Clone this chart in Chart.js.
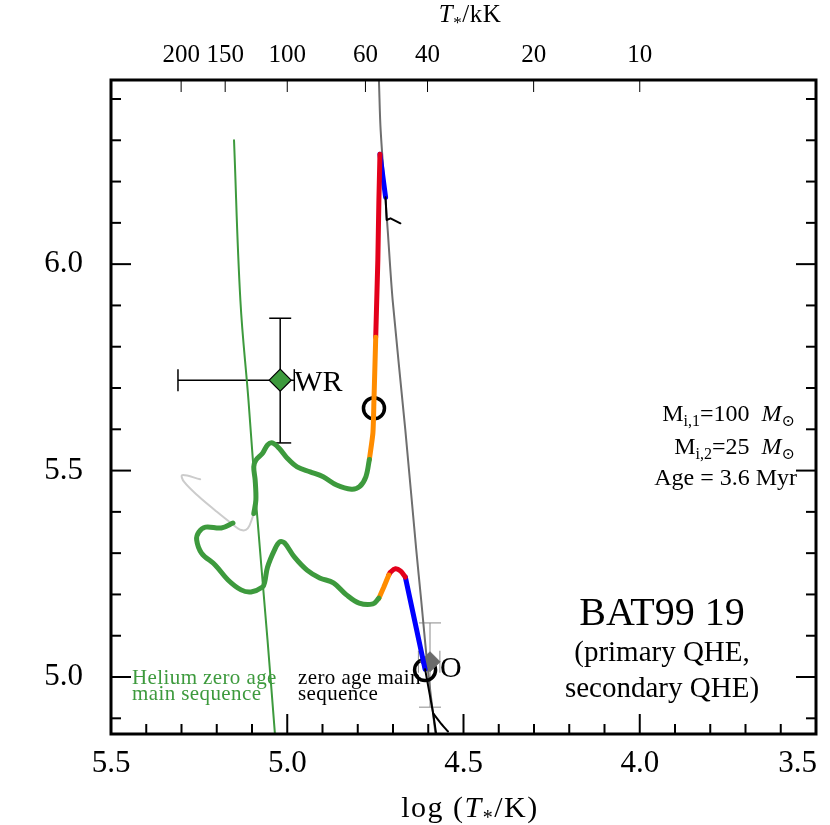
<!DOCTYPE html>
<html>
<head>
<meta charset="utf-8">
<script src="https://cdn.jsdelivr.net/npm/chart.js@4.4.1/dist/chart.umd.min.js"></script>
<style>
  body { margin: 0; background: #fff; }
  canvas { display: block; }
</style>
</head>
<body>
<canvas id="hrd" width="830" height="825"></canvas>
<script>
const ctx = document.getElementById("hrd");
const serif = "'Liberation Serif', 'DejaVu Serif', serif";

const green = "#3d9a3d";
const red = "#e3001b";
const blue = "#0000ff";
const orange = "#ff8c00";

// axis ticks
const xTickLabels = [5.5, 5.0, 4.5, 4.0, 3.5];
const yTickLabels = [5.0, 5.5, 6.0];
const topTickKK = [200, 150, 100, 60, 40, 20, 10];

// helium zero age main sequence
const heZamsT = [5.151, 5.133, 5.110, 5.089, 5.056, 5.034];
const heZamsL = [6.300, 5.913, 5.670, 5.429, 5.090, 4.852];

// zero age main sequence
const zamsT = [4.743, 4.740, 4.735, 4.715, 4.701, 4.665, 4.634, 4.620, 4.601, 4.578];
const zamsL = [6.500, 6.446, 6.324, 6.082, 5.913, 5.598, 5.308, 5.186, 5.017, 4.852];

// primary track (100 Msun)
const p1PreT = [4.679, 4.707, 4.718, 4.721];
const p1PreL = [6.099, 6.111, 6.107, 6.162];
const p1BlueT = [4.721, 4.737];
const p1BlueL = [6.162, 6.266];
const p1RedT = [4.737, 4.740, 4.743, 4.749];
const p1RedL = [6.266, 6.155, 6.010, 5.823];
const p1OrangeT = [4.749, 4.754, 4.757, 4.767];
const p1OrangeL = [5.823, 5.671, 5.591, 5.527];
const p1GreenT = [4.767, 4.777, 4.795, 4.818, 4.860, 4.898, 4.935, 4.972, 5.000, 5.023, 5.042, 5.056, 5.070, 5.089, 5.095, 5.091, 5.089, 5.095];
const p1GreenL = [5.527, 5.485, 5.461, 5.455, 5.465, 5.485, 5.497, 5.509, 5.530, 5.554, 5.567, 5.562, 5.542, 5.525, 5.509, 5.477, 5.429, 5.396];
const p1LateT = [5.095, 5.098, 5.112, 5.130, 5.158, 5.205, 5.251, 5.293, 5.298, 5.247];
const p1LateL = [5.396, 5.388, 5.360, 5.356, 5.372, 5.404, 5.437, 5.473, 5.489, 5.479];

// secondary track (25 Msun)
const s2PreT = [4.573, 4.586, 4.609];
const s2PreL = [4.835, 4.912, 5.019];
const s2HookT = [4.586, 4.567, 4.544];
const s2HookL = [4.912, 4.891, 4.868];
const s2BlueT = [4.609, 4.665];
const s2BlueL = [5.019, 5.242];
const s2RedT = [4.665, 4.679, 4.693, 4.707, 4.712];
const s2RedL = [5.242, 5.257, 5.262, 5.254, 5.247];
const s2OrangeT = [4.712, 4.726, 4.740];
const s2OrangeL = [5.247, 5.218, 5.191];
const s2GreenT = [4.740, 4.757, 4.796, 4.832, 4.869, 4.908, 4.944, 4.980, 5.008, 5.022, 5.036, 5.056, 5.064, 5.070, 5.103, 5.131, 5.168, 5.204, 5.243, 5.257, 5.251, 5.232, 5.187, 5.154];
const s2GreenL = [5.191, 5.177, 5.179, 5.199, 5.228, 5.240, 5.259, 5.291, 5.325, 5.327, 5.308, 5.266, 5.230, 5.218, 5.206, 5.211, 5.235, 5.271, 5.300, 5.332, 5.351, 5.363, 5.361, 5.373];

// observed positions: [logT, logL], error ranges
const wrObs = [5.020, 5.719];
const wrErrT = [5.310, 4.980];
const wrErrL = [5.869, 5.567];
const oObs = [4.595, 5.037];
const oErrT = [4.628, 4.567];
const oErrL = [5.131, 4.927];

// model positions at the best age
const modelT = [4.754, 4.609];
const modelL = [5.651, 5.017];

const pts = (T, L) => T.map((t, i) => ({ x: t, y: L[i] }));

function track(T, L, color, width, order, tension) {
  return {
    data: pts(T, L),
    showLine: true,
    borderColor: color,
    borderWidth: width,
    pointRadius: 0,
    tension: tension || 0,
    borderCapStyle: "round",
    borderJoinStyle: "round",
    order: order,
    clip: 0,
  };
}

function line(c, x1, y1, x2, y2) {
  c.beginPath();
  c.moveTo(x1, y1);
  c.lineTo(x2, y2);
  c.stroke();
}

function runs(c, parts, x, y, align) {
  let w = 0;
  parts.forEach((p) => { c.font = p.f; w += c.measureText(p.t).width; });
  let cx = align === "right" ? x - w : align === "center" ? x - w / 2 : x;
  parts.forEach((p) => {
    c.font = p.f;
    c.fillText(p.t, cx, y + (p.dy || 0));
    cx += c.measureText(p.t).width;
  });
}

function errorBar(c, xs, ys, obs, errT, errL, color, cap) {
  const x = xs.getPixelForValue(obs[0]);
  const y = ys.getPixelForValue(obs[1]);
  const x1 = xs.getPixelForValue(errT[0]);
  const x2 = xs.getPixelForValue(errT[1]);
  const y1 = ys.getPixelForValue(errL[0]);
  const y2 = ys.getPixelForValue(errL[1]);
  c.strokeStyle = color;
  line(c, x1, y, x2, y);
  line(c, x, y1, x, y2);
  line(c, x1, y - cap, x1, y + cap);
  line(c, x2, y - cap, x2, y + cap);
  line(c, x - cap, y1, x + cap, y1);
  line(c, x - cap, y2, x + cap, y2);
}

const hrdExtras = {
  id: "hrdExtras",
  beforeDatasetsDraw(chart) {
    const c = chart.ctx;
    const xs = chart.scales.x, ys = chart.scales.y;
    c.save();
    c.lineWidth = 1.5;
    errorBar(c, xs, ys, wrObs, wrErrT, wrErrL, "#000", 11);
    c.lineWidth = 1;
    errorBar(c, xs, ys, oObs, oErrT, oErrL, "#8a8a8a", 11);
    c.restore();
  },
  afterDraw(chart) {
    const c = chart.ctx;
    const a = chart.chartArea;
    const xs = chart.scales.x, ys = chart.scales.y, xt = chart.scales.xTop;
    c.save();
    c.strokeStyle = "#000";
    c.fillStyle = "#000";

    // inward ticks
    c.lineWidth = 2;
    for (let i = 49; i <= 64; i++) {
      const y = ys.getPixelForValue(i / 10);
      const len = i % 5 === 0 ? 20 : 10;
      line(c, a.left, y, a.left + len, y);
      line(c, a.right, y, a.right - len, y);
    }
    for (let i = 36; i <= 54; i++) {
      const x = xs.getPixelForValue(i / 10);
      const len = i % 5 === 0 ? 20 : 10;
      line(c, x, a.bottom, x, a.bottom - len);
    }
    c.lineWidth = 1;
    topTickKK.forEach((k) => {
      const x = xt.getPixelForValue(Math.log10(k * 1000));
      line(c, x, a.top, x, a.top + 12);
    });

    // frame
    c.lineWidth = 3;
    c.strokeRect(a.left, a.top, a.right - a.left, a.bottom - a.top);

    // bottom tick labels, kept inside the canvas
    c.textBaseline = "alphabetic";
    c.font = "31px " + serif;
    xTickLabels.forEach((v) => {
      const s = v.toFixed(1);
      const w = c.measureText(s).width;
      const x = Math.min(xs.getPixelForValue(v), chart.width - 13 - w / 2);
      c.fillText(s, x - w / 2, 772);
    });

    // axis titles
    const f30 = "30px " + serif, i30 = "italic 30px " + serif, f20 = "20px " + serif;
    c.letterSpacing = "1.5px";
    runs(c, [{ t: "log (", f: f30 }, { t: "T", f: i30 }, { t: "*", f: f20, dy: 7 }, { t: "/K)", f: f30 }], 470, 817, "center");
    const f25 = "25px " + serif, i25 = "italic 25px " + serif, f17 = "17px " + serif;
    c.letterSpacing = "0.5px";
    runs(c, [{ t: "T", f: i25 }, { t: "*", f: f17, dy: 6 }, { t: "/kK", f: f25 }], 470, 22, "center");
    c.letterSpacing = "0px";

    // marker labels
    c.font = "30px " + serif;
    c.fillText("WR", xs.getPixelForValue(wrObs[0]) + 14, ys.getPixelForValue(wrObs[1]) + 11);
    c.fillText("O", xs.getPixelForValue(oObs[0]) + 10, ys.getPixelForValue(oObs[1]) + 15);

    // sequence labels
    c.font = "21px " + serif;
    c.letterSpacing = "0.4px";
    c.fillStyle = green;
    c.fillText("Helium zero age", 132, 684);
    c.fillText("main sequence", 132, 700);
    c.fillStyle = "#000";
    c.fillText("zero age main", 298, 684);
    c.fillText("sequence", 298, 700);
    c.letterSpacing = "0px";

    // model parameters
    const f24 = "24px " + serif, i24 = "italic 24px " + serif, f16 = "16px " + serif;
    runs(c, [{ t: "M", f: f24 }, { t: "i,1", f: f16, dy: 5 }, { t: "=100  ", f: f24 }, { t: "M", f: i24 }, { t: "\u2299", f: f16, dy: 5 }], 795, 421, "right");
    runs(c, [{ t: "M", f: f24 }, { t: "i,2", f: f16, dy: 5 }, { t: "=25  ", f: f24 }, { t: "M", f: i24 }, { t: "\u2299", f: f16, dy: 5 }], 795, 454, "right");
    runs(c, [{ t: "Age = 3.6 Myr", f: f24 }], 797, 485, "right");

    // object name
    c.textAlign = "center";
    c.font = "40px " + serif;
    c.fillText("BAT99 19", 662, 625);
    c.font = "29px " + serif;
    c.fillText("(primary QHE,", 662, 661);
    c.fillText("secondary QHE)", 662, 697);
    c.restore();
  },
};

const datasets = [
  track(zamsT, zamsL, "#6e6e6e", 2, 20, 0.3),
  track(heZamsT, heZamsL, green, 2, 19, 0.4),
  {
    data: pts(modelT, modelL),
    pointStyle: "circle",
    pointRadius: 10.5,
    backgroundColor: "rgba(0,0,0,0)",
    borderColor: "#000",
    borderWidth: 3.5,
    showLine: false,
    order: 12,
  },
  {
    data: [{ x: oObs[0], y: oObs[1] }],
    pointStyle: "rectRot",
    pointRadius: 10,
    backgroundColor: "#6b6b6b",
    borderColor: "#6b6b6b",
    borderWidth: 1,
    showLine: false,
    order: 11,
  },
  {
    data: [{ x: wrObs[0], y: wrObs[1] }],
    pointStyle: "rectRot",
    pointRadius: 11,
    backgroundColor: green,
    borderColor: "#000",
    borderWidth: 1.2,
    showLine: false,
    order: 11,
  },
  track(p1LateT, p1LateL, "#cccccc", 2, 8, 0.35),
  track(p1GreenT, p1GreenL, green, 5, 5, 0.35),
  track(p1OrangeT, p1OrangeL, orange, 5, 5, 0.2),
  track(p1RedT, p1RedL, red, 5, 5),
  track(p1BlueT, p1BlueL, blue, 5, 5),
  track(p1PreT, p1PreL, "#000", 2, 4),
  track(s2GreenT, s2GreenL, green, 5, 5, 0.35),
  track(s2OrangeT, s2OrangeL, orange, 5, 5),
  track(s2RedT, s2RedL, red, 5, 5, 0.35),
  track(s2BlueT, s2BlueL, blue, 5, 5),
  track(s2PreT, s2PreL, "#000", 2, 4),
  track(s2HookT, s2HookL, "#000", 2, 4, 0.3),
];

const hrd = new Chart(ctx, {
  type: "scatter",
  data: { datasets: datasets },
  plugins: [hrdExtras],
  options: {
    responsive: false,
    animation: false,
    devicePixelRatio: 1,
    events: [],
    layout: { padding: { left: 0, right: 2, top: 0, bottom: 0 } },
    plugins: { legend: { display: false }, tooltip: { enabled: false } },
    scales: {
      x: {
        type: "linear",
        position: "bottom",
        min: 3.5,
        max: 5.5,
        reverse: true,
        grid: { display: false, drawTicks: false },
        border: { display: false },
        ticks: { display: false },
        afterFit: (s) => { s.height = 91; },
      },
      xTop: {
        type: "linear",
        position: "top",
        min: 3.5,
        max: 5.5,
        reverse: true,
        grid: { display: false, drawTicks: false },
        border: { display: false },
        afterBuildTicks: (s) => { s.ticks = topTickKK.map((k) => ({ value: Math.log10(k * 1000) })); },
        ticks: {
          autoSkip: false,
          maxRotation: 0,
          padding: 10,
          color: "#000",
          font: { family: serif, size: 25 },
          callback: (v) => String(Math.round(Math.pow(10, v) / 1000)),
        },
        afterFit: (s) => { s.height = 80; },
      },
      y: {
        type: "linear",
        min: 4.862,
        max: 6.446,
        grid: { display: false, drawTicks: false },
        border: { display: false },
        afterBuildTicks: (s) => { s.ticks = yTickLabels.map((v) => ({ value: v })); },
        ticks: {
          autoSkip: false,
          padding: 28,
          color: "#000",
          font: { family: serif, size: 31 },
          callback: (v) => v.toFixed(1),
        },
        afterFit: (s) => { s.width = 111; },
      },
    },
  },
});
</script>
</body>
</html>
